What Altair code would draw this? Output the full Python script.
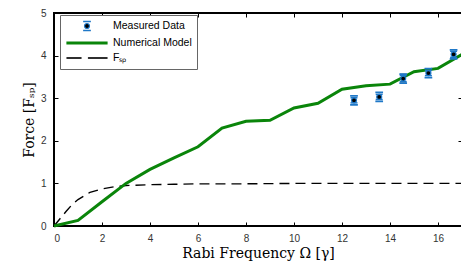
import altair as alt
import pandas as pd

# ---- data ----
model_x = [0, 1, 2, 3, 4, 5, 6, 7, 8, 9, 10, 11, 12, 13, 14, 15, 16, 17]
model_y = [0, 0.13, 0.57, 1.0, 1.33, 1.6, 1.86, 2.3, 2.46, 2.48, 2.77, 2.88, 3.21, 3.29, 3.33, 3.62, 3.7, 4.03]

fsp_x = [0, 0.25, 0.5, 0.75, 1, 1.5, 2, 2.5, 3, 4, 5, 6, 8, 10, 12, 14, 17]
fsp_y = [0, 0.17, 0.34, 0.5, 0.62, 0.79, 0.87, 0.92, 0.95, 0.97, 0.98, 0.99, 0.99, 1.0, 1.0, 1.0, 1.0]

meas_x = [12.5, 13.55, 14.55, 15.6, 16.65]
meas_y = [2.95, 3.03, 3.46, 3.59, 4.03]
meas_err = [0.06, 0.06, 0.07, 0.06, 0.07]

series_names = ["Measured Data", "Numerical Model", "Fₛₚ"]
x_ticks = [0, 2, 4, 6, 8, 10, 12, 14, 16]
y_ticks = [0, 1, 2, 3, 4, 5]

GREEN = "#0a850a"
BLUE = "#1f78c8"
TICK_FONT = "Liberation Sans"
TITLE_FONT = "DejaVu Serif"

model_df = pd.DataFrame({"x": model_x, "y": model_y})
fsp_df = pd.DataFrame({"x": fsp_x, "y": fsp_y})
meas_df = pd.DataFrame({
    "x": meas_x, "y": meas_y,
    "lo": [a - e for a, e in zip(meas_y, meas_err)],
    "hi": [a + e for a, e in zip(meas_y, meas_err)],
    "series": ["Measured Data"] * len(meas_x),
})

xscale = alt.Scale(domain=[0, 17], nice=False, zero=False)
yscale = alt.Scale(domain=[0, 5], nice=False)

common_axis = dict(
    domain=False, grid=False, ticks=True, tickSize=4, offset=-4,
    tickColor="black", tickWidth=1,
)

bottom_axis = alt.Axis(
    orient="bottom", values=x_ticks, labelFont=TICK_FONT, labelFontSize=10,
    labelColor="#333", labelPadding=7, title="Rabi Frequency Ω [γ]",
    titleFont=TITLE_FONT, titleFontSize=14, titleFontWeight="normal",
    titleColor="black", titlePadding=3, **common_axis)
left_axis = alt.Axis(
    orient="left", values=y_ticks, labelFont=TICK_FONT, labelFontSize=10,
    labelColor="#333", labelPadding=8, title="Force [Fₛₚ]",
    titleFont=TITLE_FONT, titleFontSize=14, titleFontWeight="normal",
    titleColor="black", titlePadding=4, **common_axis)
top_axis = alt.Axis(orient="top", values=x_ticks, labels=False, title=None, **common_axis)
right_axis = alt.Axis(orient="right", values=y_ticks, labels=False, title=None, **common_axis)

model_line = alt.Chart(model_df).mark_line(color=GREEN, strokeWidth=3).encode(
    x=alt.X("x:Q", scale=xscale, axis=bottom_axis),
    y=alt.Y("y:Q", scale=yscale, axis=left_axis),
)

fsp_line = alt.Chart(fsp_df).mark_line(color="black", strokeWidth=1.4, strokeDash=[10, 6]).encode(
    x=alt.X("x:Q", scale=xscale, axis=top_axis),
    y=alt.Y("y:Q", scale=yscale, axis=right_axis),
)

err_rule = alt.Chart(meas_df).mark_rule(color=BLUE, strokeWidth=1.5).encode(
    x=alt.X("x:Q", scale=xscale, axis=None),
    y=alt.Y("lo:Q", scale=yscale, axis=None),
    y2="hi:Q",
)
err_lo = alt.Chart(meas_df).mark_tick(color=BLUE, orient="horizontal", size=7, thickness=1.5, opacity=1).encode(
    x=alt.X("x:Q", scale=xscale, axis=None),
    y=alt.Y("lo:Q", scale=yscale, axis=None),
)
err_hi = alt.Chart(meas_df).mark_tick(color=BLUE, orient="horizontal", size=7, thickness=1.5, opacity=1).encode(
    x=alt.X("x:Q", scale=xscale, axis=None),
    y=alt.Y("hi:Q", scale=yscale, axis=None),
)

# legend glyphs (unit square scaled by symbol size)
shape_paths = [
    "M-0.5,0A0.5,0.5 0 1,1 0.5,0A0.5,0.5 0 1,1 -0.5,0Z "
    "M-0.65,-0.95H0.65V-0.85H-0.65Z M-0.65,0.85H0.65V0.95H-0.65Z",
    "M-4,-0.2H4V0.2H-4Z",
    "M-4,-0.04H-1.2V0.04H-4Z M0.3,-0.04H4V0.04H0.3Z",
]
fill_colors = ["black", GREEN, "black"]
stroke_colors = [BLUE, GREEN, "black"]

legend_kw = dict(
    title=None, orient="none", legendX=6, legendY=2,
    symbolSize=100, symbolOffset=16, labelOffset=20, symbolStrokeWidth=1.2,
    labelFont=TICK_FONT, labelFontSize=10.5, labelColor="black",
    labelExpr="datum.label + '\u2002\u2002'",
    padding=5, rowPadding=3, strokeColor="#666", fillColor="white",
)

points = alt.Chart(meas_df).mark_point(
    filled=True, size=100, strokeWidth=1.2, opacity=1
).encode(
    x=alt.X("x:Q", scale=xscale, axis=None),
    y=alt.Y("y:Q", scale=yscale, axis=None),
    fill=alt.Fill("series:N", scale=alt.Scale(domain=series_names, range=fill_colors),
                  legend=alt.Legend(**legend_kw)),
    stroke=alt.Stroke("series:N", scale=alt.Scale(domain=series_names, range=stroke_colors),
                      legend=alt.Legend(**legend_kw)),
    shape=alt.Shape("series:N", scale=alt.Scale(domain=series_names, range=shape_paths),
                    legend=alt.Legend(**legend_kw)),
)

chart = alt.layer(fsp_line, model_line, err_rule, err_lo, err_hi, points).resolve_axis(
    x="independent", y="independent"
).properties(
    width=408, height=213,
    autosize=alt.AutoSizeParams(type="none"),
    padding={"left": 46, "top": 5, "right": -1, "bottom": 39},
).configure_view(stroke="black", strokeWidth=2)

chart.save("out.html", embed_options={"renderer": "svg", "actions": False})
